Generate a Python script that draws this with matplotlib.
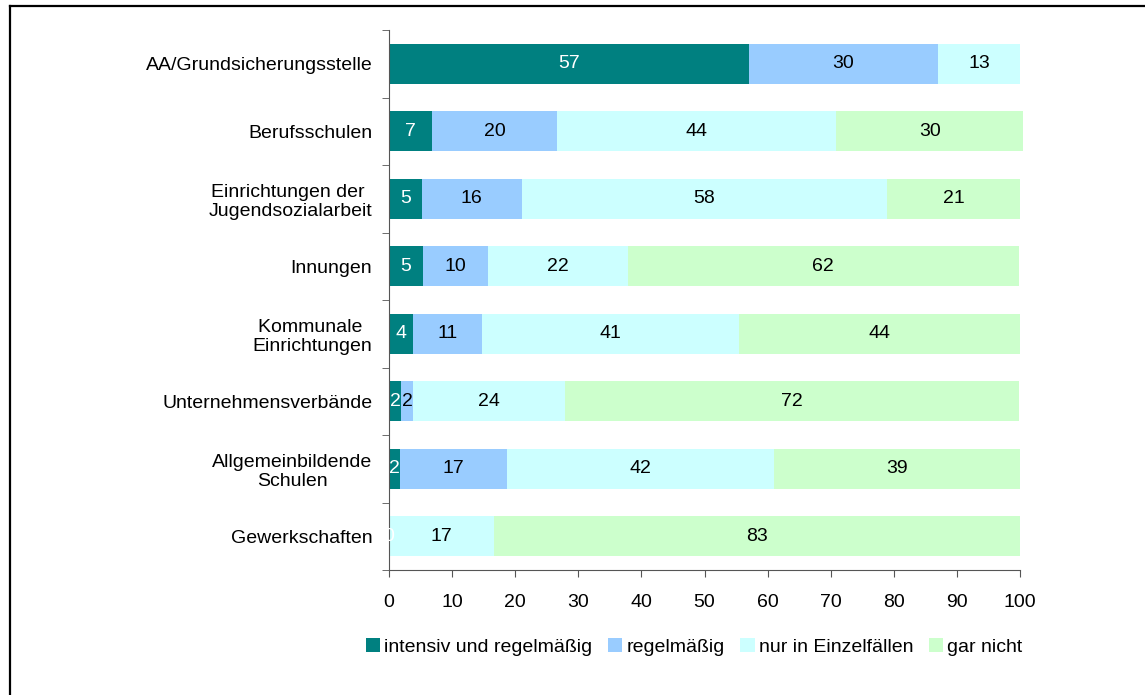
import matplotlib
matplotlib.use('Agg')
from matplotlib import pyplot as plt
from matplotlib.lines import Line2D
import numpy as np

plt.rcParams['font.family'] = ['Liberation Sans', 'DejaVu Sans']

categories = ['AA/Grundsicherungsstelle', 'Berufsschulen', 'Einrichtungen der \nJugendsozialarbeit',
	'Innungen', 'Kommunale \nEinrichtungen', 'Unternehmensverbände', 'Allgemeinbildende\nSchulen',
	'Gewerkschaften']
series_names = ['intensiv und regelmäßig', 'regelmäßig', 'nur in Einzelfällen', 'gar nicht']

intensiv = [57.0, 6.8, 5.2, 5.4, 3.8, 1.9, 1.8, 0.0]
regelm = [30.0, 19.8, 15.8, 10.3, 10.9, 1.9, 16.9, 0.0]
einzel = [13.0, 44.3, 57.9, 22.1, 40.8, 24.1, 42.3, 16.6]
garnicht = [0.0, 29.6, 21.1, 62.0, 44.5, 71.9, 39.0, 83.4]

colors = ['#008080', '#99CCFF', '#CCFFFF', '#CCFFCC']
text_colors = ['white', 'black', 'black', 'black']
fs = 14

fig = plt.figure(figsize=(11.45, 6.95), dpi=100)
ax = fig.add_axes([389 / 1145, 1 - 570 / 695, 631 / 1145, 540 / 695])

y = np.arange(len(categories))
left = np.zeros(len(categories))
for i, vals in enumerate([intensiv, regelm, einzel, garnicht]):
	vals = np.array(vals)
	bars = ax.barh(y, vals, left=left, height=0.59, color=colors[i], label=series_names[i])
	for b in bars:
		b.set_clip_on(False)
	for j, v in enumerate(vals):
		# zero segments: only the first series shows its 0
		if v == 0 and not (i == 0 and j == len(categories) - 1):
			continue
		ax.text(left[j] + v / 2, y[j], '%d' % round(v), ha='center', va='center',
			color=text_colors[i], fontsize=fs)
	left += vals

ax.set_ylim(len(categories) - 0.5, -0.5)
ax.set_xlim(0, 100)
ax.set_xticks(range(0, 101, 10))
ax.set_yticks(y)
ax.set_yticklabels(categories, multialignment='center')
ax.set_yticks(np.arange(-0.5, len(categories), 1), minor=True)
ax.tick_params(axis='y', which='major', length=0, pad=12, labelsize=fs)
ax.tick_params(axis='y', which='minor', length=5, color='#555555')
ax.tick_params(axis='x', length=5, pad=12, labelsize=fs, color='#555555')
for s in ['top', 'right']:
	ax.spines[s].set_visible(False)
for s in ['left', 'bottom']:
	ax.spines[s].set_color('#555555')

fig.legend(loc='center', bbox_to_anchor=(694 / 1145, 1 - 647 / 695), ncol=4, frameon=False,
	fontsize=fs, handlelength=0.75, handleheight=0.75, handletextpad=0.2, columnspacing=0.8)

# frame lines (top and left only)
fig.add_artist(Line2D([9.5 / 1145, 1], [1 - 6 / 695, 1 - 6 / 695], color='black', lw=1.6, transform=fig.transFigure))
fig.add_artist(Line2D([9.5 / 1145, 9.5 / 1145], [0, 1 - 6 / 695], color='black', lw=1.6, transform=fig.transFigure))

fig.savefig('out.png', dpi=100)
